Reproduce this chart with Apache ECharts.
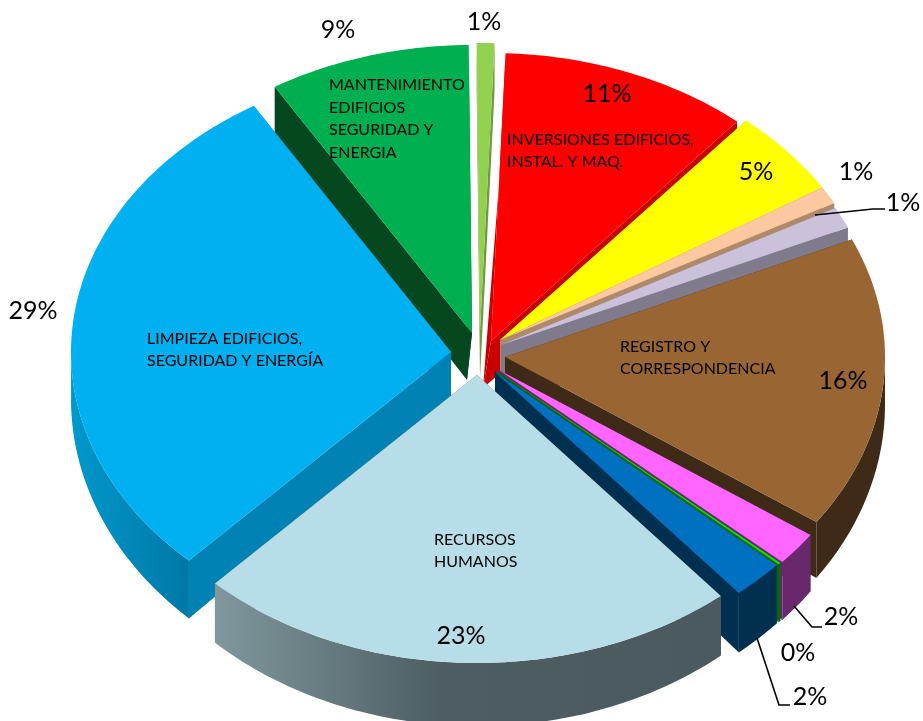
<!DOCTYPE html>
<html><head><meta charset="utf-8">
<style>html,body{margin:0;padding:0;background:#fff}#c{width:923px;height:721px}</style>
<script src="https://cdn.jsdelivr.net/npm/echarts@6/dist/echarts.min.js"></script>
</head><body><div id="c"></div>
<script>
// data (percent of total, clockwise from the top)
const categories = ['OTROS 1','INVERSIONES EDIFICIOS,\nINSTAL. Y MAQ.','OTROS 2','OTROS 3','OTROS 4','REGISTRO Y\nCORRESPONDENCIA','OTROS 5','OTROS 6','OTROS 7','RECURSOS\nHUMANOS','LIMPIEZA EDIFICIOS,\nSEGURIDAD Y ENERGÍA','MANTENIMIENTO\nEDIFICIOS\nSEGURIDAD Y\nENERGIA'];
const showName = [0,1,0,0,0,1,0,0,0,1,1,1];
const values = [0.75,10.6,4.9,1.0,1.2,16.4,1.9,0.1,2.2,23.2,29.2,8.55];
// styling
const topColors = ['#92d050','#ff0000','#ffff00','#fcc8a0','#ccc1da','#996633','#ff66ff','#00ee00','#0070c0','#b7dee8','#00b0f0','#00b050'];
const sideColors = ['#6f9a3e','#c80000','#b0b000','#b08a68','#7f7a8c','#3e2a16','#69286b','#006a10','#002f50','#4a5a5f','#0082b4','#05471f'];
const explodeX = [-2,9,18,18,19,23,17,15,13,-5,-31,-10];
const explodeY = [-21,-11,-12,-12,-7,5,18,19,20,23,0,-19];
const baseShift = [0,-8,0,0,0,0,0,0,0,0,0,-5];
const nameX = [0,507,0,0,0,620,0,0,0,434,147,329];
const nameY = [0,151,0,0,0,358,0,0,0,551,350,119];
const pctX = [484,607,756,856,903,843,841,798,810,461,33,338];
const pctY = [22,94,172,172,203,381,617,653,697,636,311,30];
const leaders = [[[815,215],[873,209],[885,209]],[[794,606],[812,627],[822,627]],[[757,638],[779,705],[790,705]]];

const cx = 482, cy = 352, rx = 380, ry = 288, startDeg = -0.5;
const total = values.reduce((a,b)=>a+b,0);
const rad = d => d*Math.PI/180;
let acc = startDeg;
const slices = values.map((v,i)=>{const s=acc; acc+=v/total*360; return {i,s,e:acc,m:(s+acc)/2};});
const order = slices.slice().sort((a,b)=>Math.cos(rad(b.m))-Math.cos(rad(a.m))).map(o=>o.i);
const depth = y => 47 + 15*Math.max(0,(y-cy))/ry;

function renderItem(params, api){
  const sl = slices[api.value(0)], i = sl.i;
  const ax = cx+explodeX[i], ay = cy+explodeY[i];
  const P = t => [ax+rx*Math.sin(rad(t)), ay-ry*Math.cos(rad(t))];
  const D = p => [p[0], p[1]+depth(p[1])];
  const arc = [];
  const n = Math.max(2,Math.ceil((sl.e-sl.s)));
  for(let k=0;k<=n;k++) arc.push(sl.s+(sl.e-sl.s)*k/n);
  const baseApex = [ax+baseShift[i], ay+depth(ay)];
  const children = [];
  const poly = (points,fill)=>children.push({type:'polygon',shape:{points},style:{fill,stroke:null},silent:true});
  // cut faces
  const a = P(sl.s), b = P(sl.e);
  poly([[ax,ay],a,D(a),baseApex], sideColors[i]);
  poly([[ax,ay],b,D(b),baseApex], sideColors[i]);
  // rim
  const vis = arc.filter(t=>t>=90&&t<=270);
  if(vis.length>=2){
    const top = vis.map(P), bot = vis.map(t=>D(P(t))).reverse();
    let fill = sideColors[i];
    if(i===9) fill = new echarts.graphic.LinearGradient(0,0,1,0,[{offset:0,color:'#7f989d'},{offset:0.45,color:'#4d5d62'},{offset:1,color:'#4a5a5f'}]);
    if(i===10) fill = new echarts.graphic.LinearGradient(0,0,1,0,[{offset:0,color:'#0098cc'},{offset:1,color:'#0078a6'}]);
    poly(top.concat(bot), fill);
  }
  // top face
  poly([[ax,ay]].concat(arc.map(P)), topColors[i]);
  if(showName[i]) children.push({type:'text',silent:true,style:{x:nameX[i],y:nameY[i],text:categories[i],fill:'#000',font:'16px Lato',lineHeight:22.5,align:'left',verticalAlign:'middle'}});
  return {type:'group',children};
}
function renderLabel(params, api){
  const i = api.value(0);
  return {type:'text',silent:true,style:{x:pctX[i],y:pctY[i],text:Math.round(values[i])+'%',fill:'#000',font:'25px Lato',align:'center',verticalAlign:'middle'}};
}
const chart = echarts.init(document.getElementById('c'),null,{renderer:'canvas'});
chart.setOption({
  animation:false,
  series:[
    {type:'custom',coordinateSystem:'none',renderItem,data:order.map(i=>[i,values[i]]),z:1,silent:true},
    {type:'custom',coordinateSystem:'none',renderItem:renderLabel,data:values.map((v,i)=>[i,v]),z:3,silent:true}
  ],
  graphic:leaders.map(pts=>({type:'polyline',z:5,silent:true,shape:{points:pts},style:{stroke:'#000',lineWidth:1.6,fill:null}}))
});
</script></body></html>
